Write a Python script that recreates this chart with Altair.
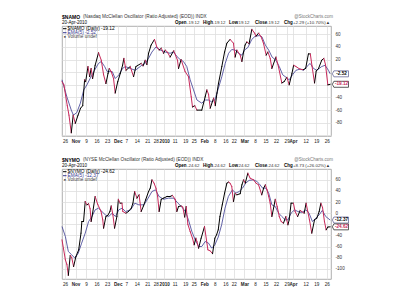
import altair as alt
import pandas as pd

FONT = "Liberation Sans"

# ---------------- x axis (trading-day index, day 0 = 26 Oct 2009) ----------------
XTICKS = [0, 5, 10, 15, 20, 25, 29, 34, 39, 43, 47, 52, 57, 61, 66, 71, 76, 80,
          85, 90, 95, 100, 105, 108, 114, 119, 124]
XLABELS = ["26", "Nov", "9", "16", "23", "Dec", "7", "14", "21", "28", "2010", "11",
           "19", "25", "Feb", "8", "16", "22", "Mar", "8", "15", "22", "29", "Apr",
           "12", "19", "26"]
BOLD_TICKS = [5, 25, 47, 66, 85, 108]

# ---------------- $NAMO ----------------
NAMO_DAY = [-1.4, -0.5, 1.1, 1.9, 3.0, 3.9, 4.9, 6.2, 7.4, 8.4, 9.3, 9.8, 10.9, 11.7,
            12.4, 13.1, 14.3, 15.9, 17.2, 18.3, 19.4, 20.4, 21.0, 21.9, 23.0, 23.8,
            25.0, 26.2, 27.3, 27.9, 28.9, 30.9, 32.5, 33.6, 36.1, 37.0, 38.0, 38.8,
            39.6, 40.8, 42.4, 43.5, 44.6, 45.6, 46.7, 47.5, 48.5, 49.8, 51.5, 53.3,
            53.8, 55.0, 56.9, 58.5, 59.8, 60.4, 61.5, 62.5, 64.8, 66.4, 67.2, 68.0,
            68.8, 70.4, 71.2, 72.0, 72.7, 74.3, 75.6, 76.7, 78.2, 79.8, 80.6, 81.4,
            83.0, 83.8, 84.6, 85.3, 86.1, 87.2, 88.5, 89.8, 90.5, 91.7, 92.9, 94.0,
            95.3, 96.1, 97.2, 98.0, 99.9, 101.1, 102.7, 103.8, 105.1, 106.2, 107.5,
            108.3, 109.4, 111.2, 112.9, 114.0, 115.3, 116.2, 117.0, 118.2, 119.0,
            120.1, 121.6, 122.6, 123.4, 124.5, 125.6]
NAMO_VAL = [-15, -20, -53, -68, -96, -68, -81, -68, -57, -53, -12, -15, 9, -7,
            6, -10, 11, 31, 19, -4, -18, -2, 6, 1, -10, -33,
            -15, -2, 11, 22, 3, 9, -7, 9, 14, 10, 19, 12,
            30, 43, 52, 40, 35, 38, 30, 35, 32, 24, 34, 19,
            6, 20, 1, -7, -39, -55, -53, -60, -60, -39, -28, -35,
            -57, -41, -53, -33, -18, 9, 32, 46, 52, 46, 24, 35,
            27, 17, 32, 43, 48, 45, 68, 62, 57, 62, 56, 46,
            27, 32, 22, 6, 24, 9, -17, -15, -8, -20, -2,
            11, 9, 5, 4, 6, 29, 29, 10, -17, 2,
            6, 19, 22, 12, -20, -19.12]
NAMO_EMA_DAY = [-1.4, 1.0, 3.0, 4.0, 5.6, 7.3, 8.9, 10.4, 11.9, 14.0, 15.9, 17.2, 18.8,
                20.0, 22.4, 23.8, 25.6, 27.3, 28.6, 30.9, 33.3, 36.4, 38.0, 39.6, 41.2,
                43.1, 45.2, 47.5, 49.8, 51.5, 53.0, 54.6, 56.1, 57.7, 59.3, 60.9, 62.5,
                64.8, 66.4, 68.0, 69.5, 71.0, 72.7, 74.3, 75.9, 77.5, 79.0, 80.6, 82.2,
                83.8, 85.0, 86.6, 88.5, 90.1, 92.0, 93.3, 94.9, 96.5, 98.1, 99.9, 101.5,
                103.1, 104.7, 106.2, 107.8, 109.4, 111.4, 113.0, 114.6, 116.1, 117.7,
                119.3, 121.6, 123.2, 124.8, 125.6]
NAMO_EMA_VAL = [-12, -40, -60, -68, -64, -49, -28, -20, -10, 3, 14, 17, 9,
                1, 1, -10, -4, 6, 9, 6, 3, 11, 14, 22, 32,
                40, 35, 32, 30, 32, 25, 20, 17, 9, -12, -28, -44,
                -49, -44, -44, -47, -44, -25, -7, 14, 30, 36, 35, 30,
                27, 35, 39, 52, 57, 58, 56, 43, 35, 24, 19, 9,
                -4, -8, -12, -4, 3, 5, 3, 9, 14, 6,
                3, 9, 11, 3, -2.52]

# ---------------- $NYMO ----------------
NYMO_DAY = [-1.4, 0.2, 0.9, 1.6, 2.5, 3.2, 4.1, 5.2, 6.5, 7.6, 8.0, 8.8, 9.6, 10.4,
            11.2, 11.9, 12.4, 13.1, 14.3, 15.5, 17.1, 17.9, 18.3, 19.4, 20.3, 21.3,
            21.9, 22.7, 23.5, 24.6, 25.3, 26.1, 27.0, 27.4, 28.9, 30.1, 31.4, 32.2,
            33.0, 34.1, 35.1, 36.1, 37.2, 38.3, 39.6, 40.4, 41.2, 42.2, 43.1, 43.9,
            44.6, 45.6, 46.7, 48.3, 49.8, 50.9, 52.2, 53.0, 53.8, 55.0, 55.8, 56.7,
            57.4, 58.2, 59.3, 60.4, 61.2, 62.0, 62.5, 63.3, 64.5, 66.1, 67.7, 68.8,
            69.9, 71.0, 71.8, 72.6, 73.4, 74.5, 75.6, 76.7, 77.5, 78.2, 79.0, 79.8,
            80.6, 81.4, 83.0, 83.8, 84.6, 85.4, 86.6, 87.7, 89.3, 90.5, 91.7, 93.2,
            94.1, 94.9, 95.7, 96.5, 97.2, 98.0, 98.8, 99.6, 100.5, 101.5, 102.4,
            103.5, 104.6, 105.6, 106.2, 107.1, 108.2, 109.0, 110.2, 111.4, 112.1,
            113.3, 114.2, 115.0, 115.8, 116.9, 118.2, 119.3, 120.4, 121.2, 122.0,
            122.9, 123.7, 124.5, 125.6]
NYMO_VAL = [-48, -84, -92, -112, -76, -80, -96, -78, -66, -36, -15, -15, 21, 15,
            17, 8, -15, 0, 30, 16, 3, -12, -27, -6, -4, 3,
            13, -3, -27, -6, 25, 18, 18, 3, 0, 3, 9, 18,
            39, 27, 33, 3, 13, 25, 39, 45, 60, 54, 45, 30,
            3, 25, 27, 30, 30, 32, 25, 3, 12, 13, 11, -7,
            12, -20, -33, -45, -57, -45, -51, -63, -45, -24, -66, -68,
            -73, -45, -39, -30, -6, 15, 36, 54, 56, 54, 48, 21,
            36, 33, 35, 51, 60, 54, 72, 63, 60, 54, 51, 33,
            45, 51, 42, 30, 18, -6, 9, 25, 12, -6, -15,
            -18, -6, -21, -12, 18, 18, 3, -6, 5, 3,
            0, 18, 3, -12, -36, -12, -9, 3, 18, 10,
            -15, -30, -25, -24.62]
NYMO_EMA_DAY = [-1.4, 0.2, 1.6, 3.2, 4.7, 6.3, 7.9, 9.6, 11.2, 12.8, 14.3, 15.9, 17.5,
                19.1, 20.7, 22.4, 23.9, 25.5, 27.1, 28.7, 31.1, 33.1, 35.0, 37.4, 39.4,
                41.2, 42.9, 44.6, 46.7, 49.0, 51.5, 53.5, 55.4, 57.0, 58.5, 60.1, 61.7,
                63.3, 64.8, 66.4, 68.0, 69.5, 71.0, 72.6, 74.2, 75.8, 77.4, 79.3, 80.9,
                82.5, 84.1, 85.6, 87.2, 89.3, 90.9, 92.0, 93.6, 95.2, 96.5, 98.0, 99.6,
                101.2, 102.7, 104.3, 105.6, 107.1, 108.7, 110.3, 112.1, 114.1, 115.6,
                117.2, 118.8, 120.4, 121.9, 123.5, 125.6]
NYMO_EMA_VAL = [-24, -42, -69, -75, -81, -72, -54, -36, -15, -6, 6, 9, 3,
                -3, -6, 0, -6, 6, 9, 3, 6, 18, 15, 15, 27,
                39, 42, 30, 25, 27, 27, 18, 11, 3, -12, -33, -48,
                -60, -60, -51, -54, -63, -57, -43, -21, 9, 30, 42, 36,
                39, 45, 54, 59, 60, 57, 53, 45, 45, 36, 15, 12,
                0, -6, -12, -12, 0, 6, 3, 1, 6, 0,
                -15, -9, -3, 5, -6, -12.37]

TOP_YTICKS = [60, 40, 20, 0, -20, -40, -60, -80, -100]
TOP_YHIDE = [0, -20, -100]
BOT_YTICKS = [60, 40, 20, 0, -20, -40, -60, -80, -100]
BOT_YHIDE = [-20]

UP_COL = "#000000"
DOWN_COL = "#c8285a"
EMA_COL = "#3a3a90"
W, H = 269, 110


def txt(s, x, y, size=4.5, weight="normal", color="#000000", align="left"):
    return alt.Chart(pd.DataFrame({"t": [s]})).mark_text(
        align=align, baseline="middle", fontSize=size, fontWeight=weight,
        color=color, font=FONT
    ).encode(x=alt.value(x), y=alt.value(y), text="t:N")


def seg(x1, x2, y, color):
    return alt.Chart(pd.DataFrame({"a": [0]})).mark_rule(
        color=color, strokeWidth=1
    ).encode(x=alt.value(x1), x2=alt.value(x2), y=alt.value(y))


def panel(sym, desc, day, val, eday, evals, ydom, yticks, yhide,
          close, ema_last, chg):
    xlab_expr = "[" + ",".join("'%s'" % s for s in XLABELS) + "][indexof([" + \
        ",".join(str(t) for t in XTICKS) + "], datum.value)]"
    ylab_expr = "indexof([" + ",".join(str(t) for t in yhide) + \
        "], datum.value) >= 0 ? '' : (datum.value < 0 ? '-' + abs(datum.value) : '' + datum.value)"
    xaxis = alt.Axis(values=XTICKS, labelExpr=xlab_expr, grid=True,
                     gridColor="#dedede", gridWidth=0.8, ticks=False,
                     domain=False, labelFontSize=4.6, labelFont=FONT,
                     labelColor="#222222", labelPadding=2,
                     labelFlush=False, labelOverlap=False, title=None,
                     labelFontWeight={"condition": {
                         "test": "indexof([" + ",".join(str(t) for t in BOLD_TICKS) + "], datum.value) >= 0",
                         "value": "bold"}, "value": "normal"})
    yaxis = alt.Axis(orient="right", values=yticks, labelExpr=ylab_expr,
                     grid=True, gridColor="#dedede", gridWidth=0.8,
                     ticks=False, domain=False, labelFontSize=4.6,
                     labelFont=FONT, labelColor="#333333",
                     labelPadding=4, labelFlush=False,
                     labelOverlap=False, title=None)
    xscale = alt.Scale(domain=[-1.4, 126], nice=False, zero=False)
    yscale = alt.Scale(domain=ydom, nice=False, zero=False)
    xenc = alt.X("d:Q", scale=xscale, axis=xaxis)
    yenc = alt.Y("v:Q", scale=yscale, axis=yaxis)

    ema_df = pd.DataFrame({"d": eday, "v": evals})
    ema = alt.Chart(ema_df).mark_line(color=EMA_COL, strokeWidth=0.8).encode(x=xenc, y=yenc)

    seg_df = pd.DataFrame({"d": day[:-1], "d2": day[1:], "v": val[:-1], "v2": val[1:]})
    seg_df["dir"] = ["down" if b < a else "up" for a, b in zip(val[:-1], val[1:])]
    main = alt.Chart(seg_df).mark_rule(strokeWidth=1, strokeCap="round").encode(
        x=xenc, x2="d2:Q", y=yenc, y2="v2:Q",
        color=alt.Color("dir:N", scale=alt.Scale(domain=["up", "down"],
                                                 range=[UP_COL, DOWN_COL]), legend=None))

    box_df = pd.DataFrame({"v": [ema_last, close],
                           "lab": ["%.2f" % ema_last, "%.2f" % close],
                           "k": ["ema", "main"]})
    boxes = alt.Chart(box_df).mark_point(
        shape="M-1.15,0L-0.95,-0.4H1V0.4H-0.95Z", filled=True, fill="white",
        strokeWidth=0.8, opacity=1, size=225
    ).encode(x=alt.value(279), y=yenc,
             stroke=alt.Stroke("k:N", scale=alt.Scale(domain=["ema", "main"],
                                                      range=["#6a6a9a", "#333333"]),
                               legend=None))
    box_txt = alt.Chart(box_df).mark_text(fontSize=4.6, fontWeight="bold", font=FONT,
                                          baseline="middle", align="center").encode(
        x=alt.value(279.5), y=yenc, text="lab:N",
        color=alt.Color("k:N", scale=alt.Scale(domain=["ema", "main"],
                                               range=[EMA_COL, "#000000"]), legend=None))

    cs = "%.2f" % close
    layers = [
        ema, main, boxes, box_txt,
        txt(sym, 0, -9.5, size=5.0, weight="bold"),
        txt(desc, 21, -9.3, size=4.7, color="#333333"),
        txt("@StockCharts.com", 271, -9.3, size=4.5, color="#777777", align="right"),
        txt("20-Apr-2010", 0, -3, size=4.5),
        txt("Open", 113, -3, size=4.5, weight="bold"),
        txt(cs, 125, -3, size=4.4, color="#333333"),
        txt("High", 141, -3, size=4.5, weight="bold"),
        txt(cs, 151, -3, size=4.4, color="#333333"),
        txt("Low", 167, -3, size=4.5, weight="bold"),
        txt(cs, 175, -3, size=4.4, color="#333333"),
        txt("Close", 193, -3, size=4.5, weight="bold"),
        txt(cs, 205, -3, size=4.4, color="#333333"),
        txt("Chg", 222, -3, size=4.5, weight="bold"),
        txt(chg, 231, -3, size=4.4, color="#333333"),
        seg(1, 4.5, 2.7, "#000000"),
        txt("%s (Daily) %s" % (sym, cs), 5.5, 2.7, size=4.8),
        seg(1, 4.5, 6.7, EMA_COL),
        txt("EMA(5) %.2f" % ema_last, 5.5, 6.7, size=4.8, color=EMA_COL),
        txt("\u25a0", 2.7, 10.7, size=3.4, color="#555555", align="center"),
        txt("Volume undef", 5.5, 10.7, size=4.8, color="#444444"),
    ]
    return alt.layer(*layers).properties(width=W, height=H)


top = panel("$NAMO", "(Nasdaq McClellan Oscillator (Ratio Adjusted) (EOD)) INDX",
            NAMO_DAY, NAMO_VAL, NAMO_EMA_DAY, NAMO_EMA_VAL, [-101, 73.2],
            TOP_YTICKS, TOP_YHIDE, -19.12, -2.52, "+2.29 (+10.70%)\u25b2")
bottom = panel("$NYMO", "(NYSE McClellan Oscillator (Ratio Adjusted) (EOD)) INDX",
               NYMO_DAY, NYMO_VAL, NYMO_EMA_DAY, NYMO_EMA_VAL, [-118.5, 79.5],
               BOT_YTICKS, BOT_YHIDE, -24.62, -12.37, "+8.73 (+26.02%)\u25b2")

chart = alt.vconcat(top, bottom, spacing=33, bounds="flush").resolve_scale(
    y="independent", color="independent", stroke="independent"
).properties(
    padding={"left": 60, "top": 13, "right": 5, "bottom": 5},
    background="white"
).configure_view(stroke="#9a9a9a", strokeWidth=0.8)

chart.save("out.html", embed_options={"renderer": "svg", "actions": False})
